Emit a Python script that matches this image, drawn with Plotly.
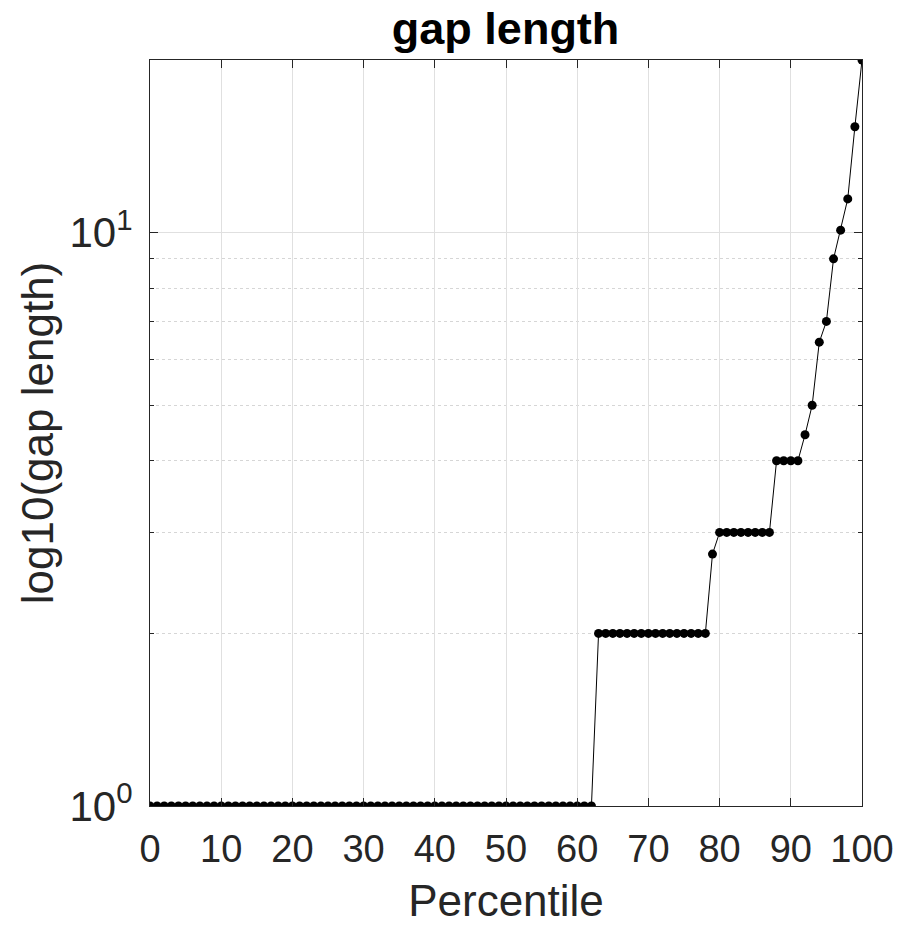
import plotly.graph_objects as go

# Percentile positions (0..100) and the gap length at each percentile
percentiles = list(range(0, 101))
gap_length = (
    [1.0] * 63                      # 0..62
    + [2.0] * 16                    # 63..78
    + [2.75]                        # 79
    + [3.0] * 8                     # 80..87
    + [4.0] * 4                     # 88..91
    + [4.44, 5.0, 6.44, 7.0, 9.0, 10.1, 11.45, 15.3, 20.0]  # 92..100
)

x_ticks = [0, 10, 20, 30, 40, 50, 60, 70, 80, 90, 100]
y_ticks = [1, 10]
y_tick_text = ["10<sup>0</sup>", "10<sup>1</sup>"]
y_minor = [2, 3, 4, 5, 6, 7, 8, 9, 20]

ink = "#262626"
font = "Liberation Sans, Arial, Helvetica, sans-serif"

fig = go.Figure()
fig.add_trace(go.Scatter(
    x=percentiles, y=gap_length,
    mode="lines+markers",
    line=dict(color="black", width=1),
    marker=dict(color="black", size=9),
    showlegend=False,
))

fig.update_layout(
    width=911, height=925,
    margin=dict(l=150, r=49, t=60, b=119),
    paper_bgcolor="white", plot_bgcolor="white",
    font=dict(family=font, color=ink, size=38),
    title=dict(text="<b>gap length</b>", x=0.555, xanchor="center",
               y=0.952, yanchor="bottom",
               font=dict(size=45, color="black", family=font)),
)

fig.update_xaxes(
    range=[0, 100], tickvals=x_ticks, automargin=False,
    showline=True, linecolor=ink, linewidth=1, mirror="ticks",
    ticks="inside", ticklen=8, tickcolor=ink,
    ticklabelstandoff=9,
    showgrid=True, gridcolor="#e0e0e0", gridwidth=1,
    zeroline=False,
    tickfont=dict(size=38, color=ink),
    title=dict(text="Percentile", font=dict(size=44, color=ink), standoff=18),
)

fig.update_yaxes(
    type="log", range=[0, 1.30103], automargin=False,
    tickvals=y_ticks, ticktext=y_tick_text,
    showline=True, linecolor=ink, linewidth=1, mirror="ticks",
    ticks="inside", ticklen=8, tickcolor=ink,
    ticklabelstandoff=8,
    showgrid=True, gridcolor="#e0e0e0", gridwidth=1,
    zeroline=False,
    tickfont=dict(size=42, color=ink),
    minor=dict(tickvals=y_minor, ticks="inside", ticklen=4, tickcolor=ink,
               showgrid=True, gridcolor="#d6d6d6", griddash="dot", gridwidth=1),
    title=dict(text="log10(gap length)", font=dict(size=44, color=ink), standoff=2),
)

fig.write_html("out.html")
